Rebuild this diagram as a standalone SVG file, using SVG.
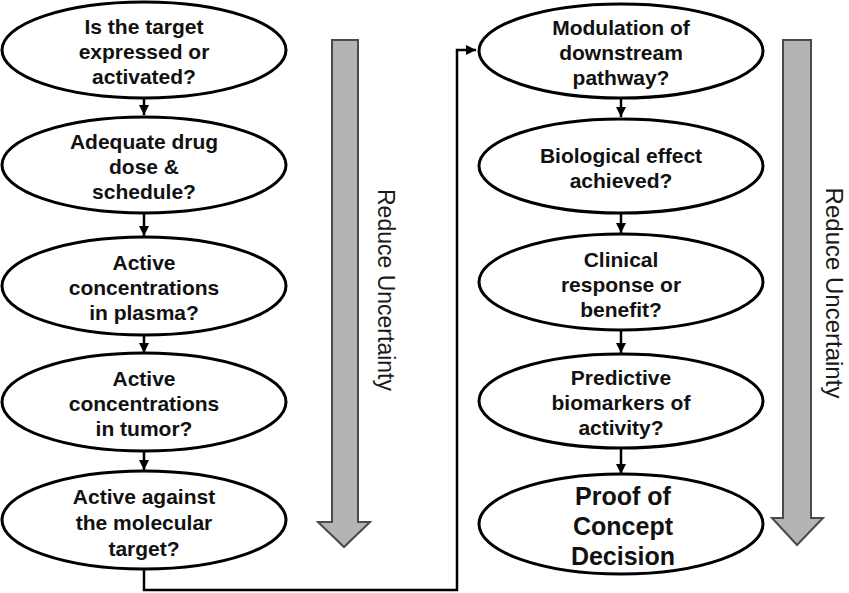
<svg xmlns="http://www.w3.org/2000/svg" width="849" height="593" viewBox="0 0 849 593">
<defs>
<style>
.node ellipse{fill:#fff;stroke:#000;stroke-width:3}
.node text{font-family:"Liberation Sans",Arial,sans-serif;font-weight:bold;font-size:21px;fill:#111;text-anchor:middle}
.big{font-size:25px!important}
.conn{fill:none;stroke:#000;stroke-width:2.5}
.big-arrow{fill:#b4b4b4;stroke:#4a4a4a;stroke-width:2;stroke-linejoin:miter}
.label{font-family:"Liberation Sans",Arial,sans-serif;font-size:23px;fill:#1a1a1a;text-anchor:middle}
</style>
<marker id="ah" viewBox="0 0 10 10" refX="10" refY="5" markerWidth="4" markerHeight="4" orient="auto" markerUnits="strokeWidth">
<path d="M0,0 L10,5 L0,10 Z" fill="#000"/>
</marker>
</defs>
<rect width="849" height="593" fill="#fff"/>
<g id="connectors">
<line class="conn" x1="144" y1="98" x2="144" y2="115" marker-end="url(#ah)"/>
<line class="conn" x1="144" y1="213" x2="144" y2="236" marker-end="url(#ah)"/>
<line class="conn" x1="144" y1="335" x2="144" y2="353" marker-end="url(#ah)"/>
<line class="conn" x1="144" y1="451" x2="144" y2="470" marker-end="url(#ah)"/>
<path class="conn" d="M144,568 V590 H457 V50 H476" marker-end="url(#ah)"/>
<line class="conn" x1="621" y1="99" x2="621" y2="117" marker-end="url(#ah)"/>
<line class="conn" x1="621" y1="213" x2="621" y2="233" marker-end="url(#ah)"/>
<line class="conn" x1="621" y1="330" x2="621" y2="353" marker-end="url(#ah)"/>
<line class="conn" x1="621" y1="449" x2="621" y2="474" marker-end="url(#ah)"/>
</g>
<g id="arrow-left"><path class="big-arrow" d="M332,40 H358 V522 H370 L344,547 L318,522 H332 Z"/></g>
<g id="arrow-right"><path class="big-arrow" d="M783,40 H811 V518 H823 L797,545 L772,518 H783 Z"/></g>
<text class="label" transform="translate(378,290) rotate(90)">Reduce Uncertainty</text>
<text class="label" style="font-size:24px" transform="translate(826,293) rotate(90)">Reduce Uncertainty</text>
<g id="n1" class="node"><ellipse cx="144" cy="50" rx="142" ry="48"/><text x="144" y="34">Is the target</text><text x="144" y="59">expressed or</text><text x="144" y="84">activated?</text></g>
<g id="n2" class="node"><ellipse cx="144" cy="165" rx="142" ry="48"/><text x="144" y="149">Adequate drug</text><text x="144" y="174">dose &amp;</text><text x="144" y="199">schedule?</text></g>
<g id="n3" class="node"><ellipse cx="144" cy="286" rx="142" ry="49"/><text x="144" y="270">Active</text><text x="144" y="295">concentrations</text><text x="144" y="320">in plasma?</text></g>
<g id="n4" class="node"><ellipse cx="144" cy="402" rx="142" ry="49"/><text x="144" y="386">Active</text><text x="144" y="411">concentrations</text><text x="144" y="436">in tumor?</text></g>
<g id="n5" class="node"><ellipse cx="144" cy="520" rx="142" ry="49"/><text x="144" y="504">Active against</text><text x="144" y="530">the molecular</text><text x="144" y="556">target?</text></g>
<g id="n6" class="node"><ellipse cx="621" cy="51" rx="142" ry="47"/><text x="621" y="35">Modulation of</text><text x="621" y="60">downstream</text><text x="621" y="85">pathway?</text></g>
<g id="n7" class="node"><ellipse cx="621" cy="166" rx="142" ry="47"/><text x="621" y="163">Biological effect</text><text x="621" y="188">achieved?</text></g>
<g id="n8" class="node"><ellipse cx="621" cy="282" rx="142" ry="48"/><text x="621" y="267">Clinical</text><text x="621" y="292">response or</text><text x="621" y="317">benefit?</text></g>
<g id="n9" class="node"><ellipse cx="621" cy="401" rx="142" ry="47"/><text x="621" y="385">Predictive</text><text x="621" y="410">biomarkers of</text><text x="621" y="435">activity?</text></g>
<g id="n10" class="node"><ellipse cx="621" cy="524" rx="142" ry="50"/><text class="big" x="623" y="505">Proof of</text><text class="big" x="623" y="535">Concept</text><text class="big" x="623" y="565">Decision</text></g>
</svg>
